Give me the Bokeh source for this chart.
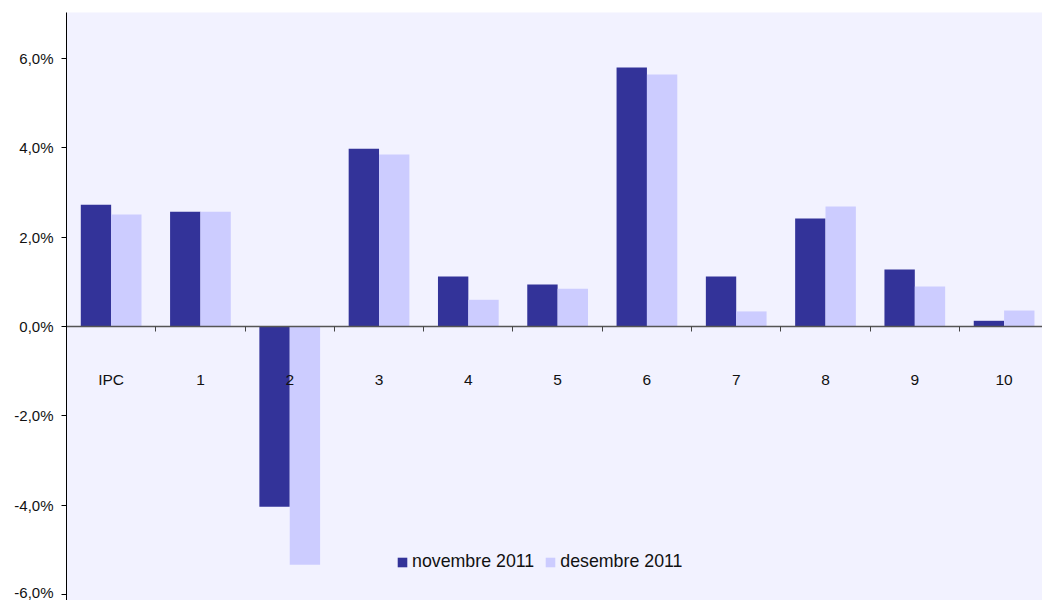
from bokeh.plotting import figure
from bokeh.models import Range1d, FixedTicker, Legend, LegendItem
from bokeh.embed import file_html
from bokeh.resources import INLINE

categories = ["IPC", "1", "2", "3", "4", "5", "6", "7", "8", "9", "10"]
nov_2011 = [2.73, 2.57, -4.03, 3.98, 1.12, 0.94, 5.80, 1.12, 2.42, 1.28, 0.13]
dec_2011 = [2.51, 2.57, -5.33, 3.85, 0.60, 0.85, 5.64, 0.34, 2.69, 0.90, 0.36]
y_ticks = [-6, -4, -2, 0, 2, 4, 6]
y_tick_labels = ["-6,0%", "-4,0%", "-2,0%", "0,0%", "2,0%", "4,0%", "6,0%"]

FONT = "Liberation Sans"
DARK = "#333399"
LIGHT = "#CCCCFF"

centers = [i + 0.5 for i in range(len(categories))]
bounds = [i + 1.0 for i in range(len(categories))]
off = 0.17
bw = 0.34

p = figure(width=1042, height=600, output_backend="svg", toolbar_location=None,
           x_range=Range1d(0, 10.93), y_range=Range1d(-6.13, 7.03),
           min_border_left=66, min_border_right=0, min_border_top=12, min_border_bottom=0)
p.background_fill_color = "#F2F2FF"
p.border_fill_color = "white"
p.outline_line_color = None
p.xgrid.visible = False
p.ygrid.visible = False

r1 = p.vbar(x=[c - off for c in centers], top=nov_2011, bottom=0, width=bw,
            fill_color=DARK, line_color=None)
r2 = p.vbar(x=[c + off for c in centers], top=dec_2011, bottom=0, width=bw,
            fill_color=LIGHT, line_color=None)

# x axis crossing at zero
xa = p.xaxis[0]
xa.fixed_location = 0
xa.ticker = FixedTicker(ticks=centers, minor_ticks=bounds)
xa.major_label_overrides = {c: lab for c, lab in zip(centers, categories)}
xa.major_tick_out = 0
xa.major_tick_in = 0
xa.minor_tick_out = 5
xa.minor_tick_in = 0
xa.minor_tick_line_color = "#444444"
xa.axis_line_color = "#555555"
xa.axis_line_width = 1.5
xa.major_label_standoff = 39
xa.major_label_text_font = FONT
xa.major_label_text_font_size = "15.5px"
xa.major_label_text_color = "#111111"

ya = p.yaxis[0]
ya.ticker = FixedTicker(ticks=y_ticks, minor_ticks=[])
ya.major_label_overrides = {t: lab for t, lab in zip(y_ticks, y_tick_labels)}
ya.major_tick_out = 5
ya.major_tick_in = 0
ya.minor_tick_out = 0
ya.minor_tick_in = 0
ya.axis_line_color = "black"
ya.major_tick_line_color = "black"
ya.major_label_standoff = 8
ya.major_label_text_font = FONT
ya.major_label_text_font_size = "15px"
ya.major_label_text_color = "#111111"

legend = Legend(items=[LegendItem(label="novembre 2011", renderers=[r1]),
                       LegendItem(label="desembre 2011", renderers=[r2])],
                orientation="horizontal", location=(330, 28))
legend.background_fill_alpha = 0
legend.border_line_color = None
legend.padding = 0
legend.margin = 0
legend.spacing = 10
legend.glyph_width = 12
legend.glyph_height = 12
legend.label_height = 12
legend.label_standoff = 4
legend.label_text_font = FONT
legend.label_text_font_size = "17.8px"
legend.label_text_color = "#111111"
p.add_layout(legend, "center")

open("out.html", "w").write(file_html(p, INLINE))
